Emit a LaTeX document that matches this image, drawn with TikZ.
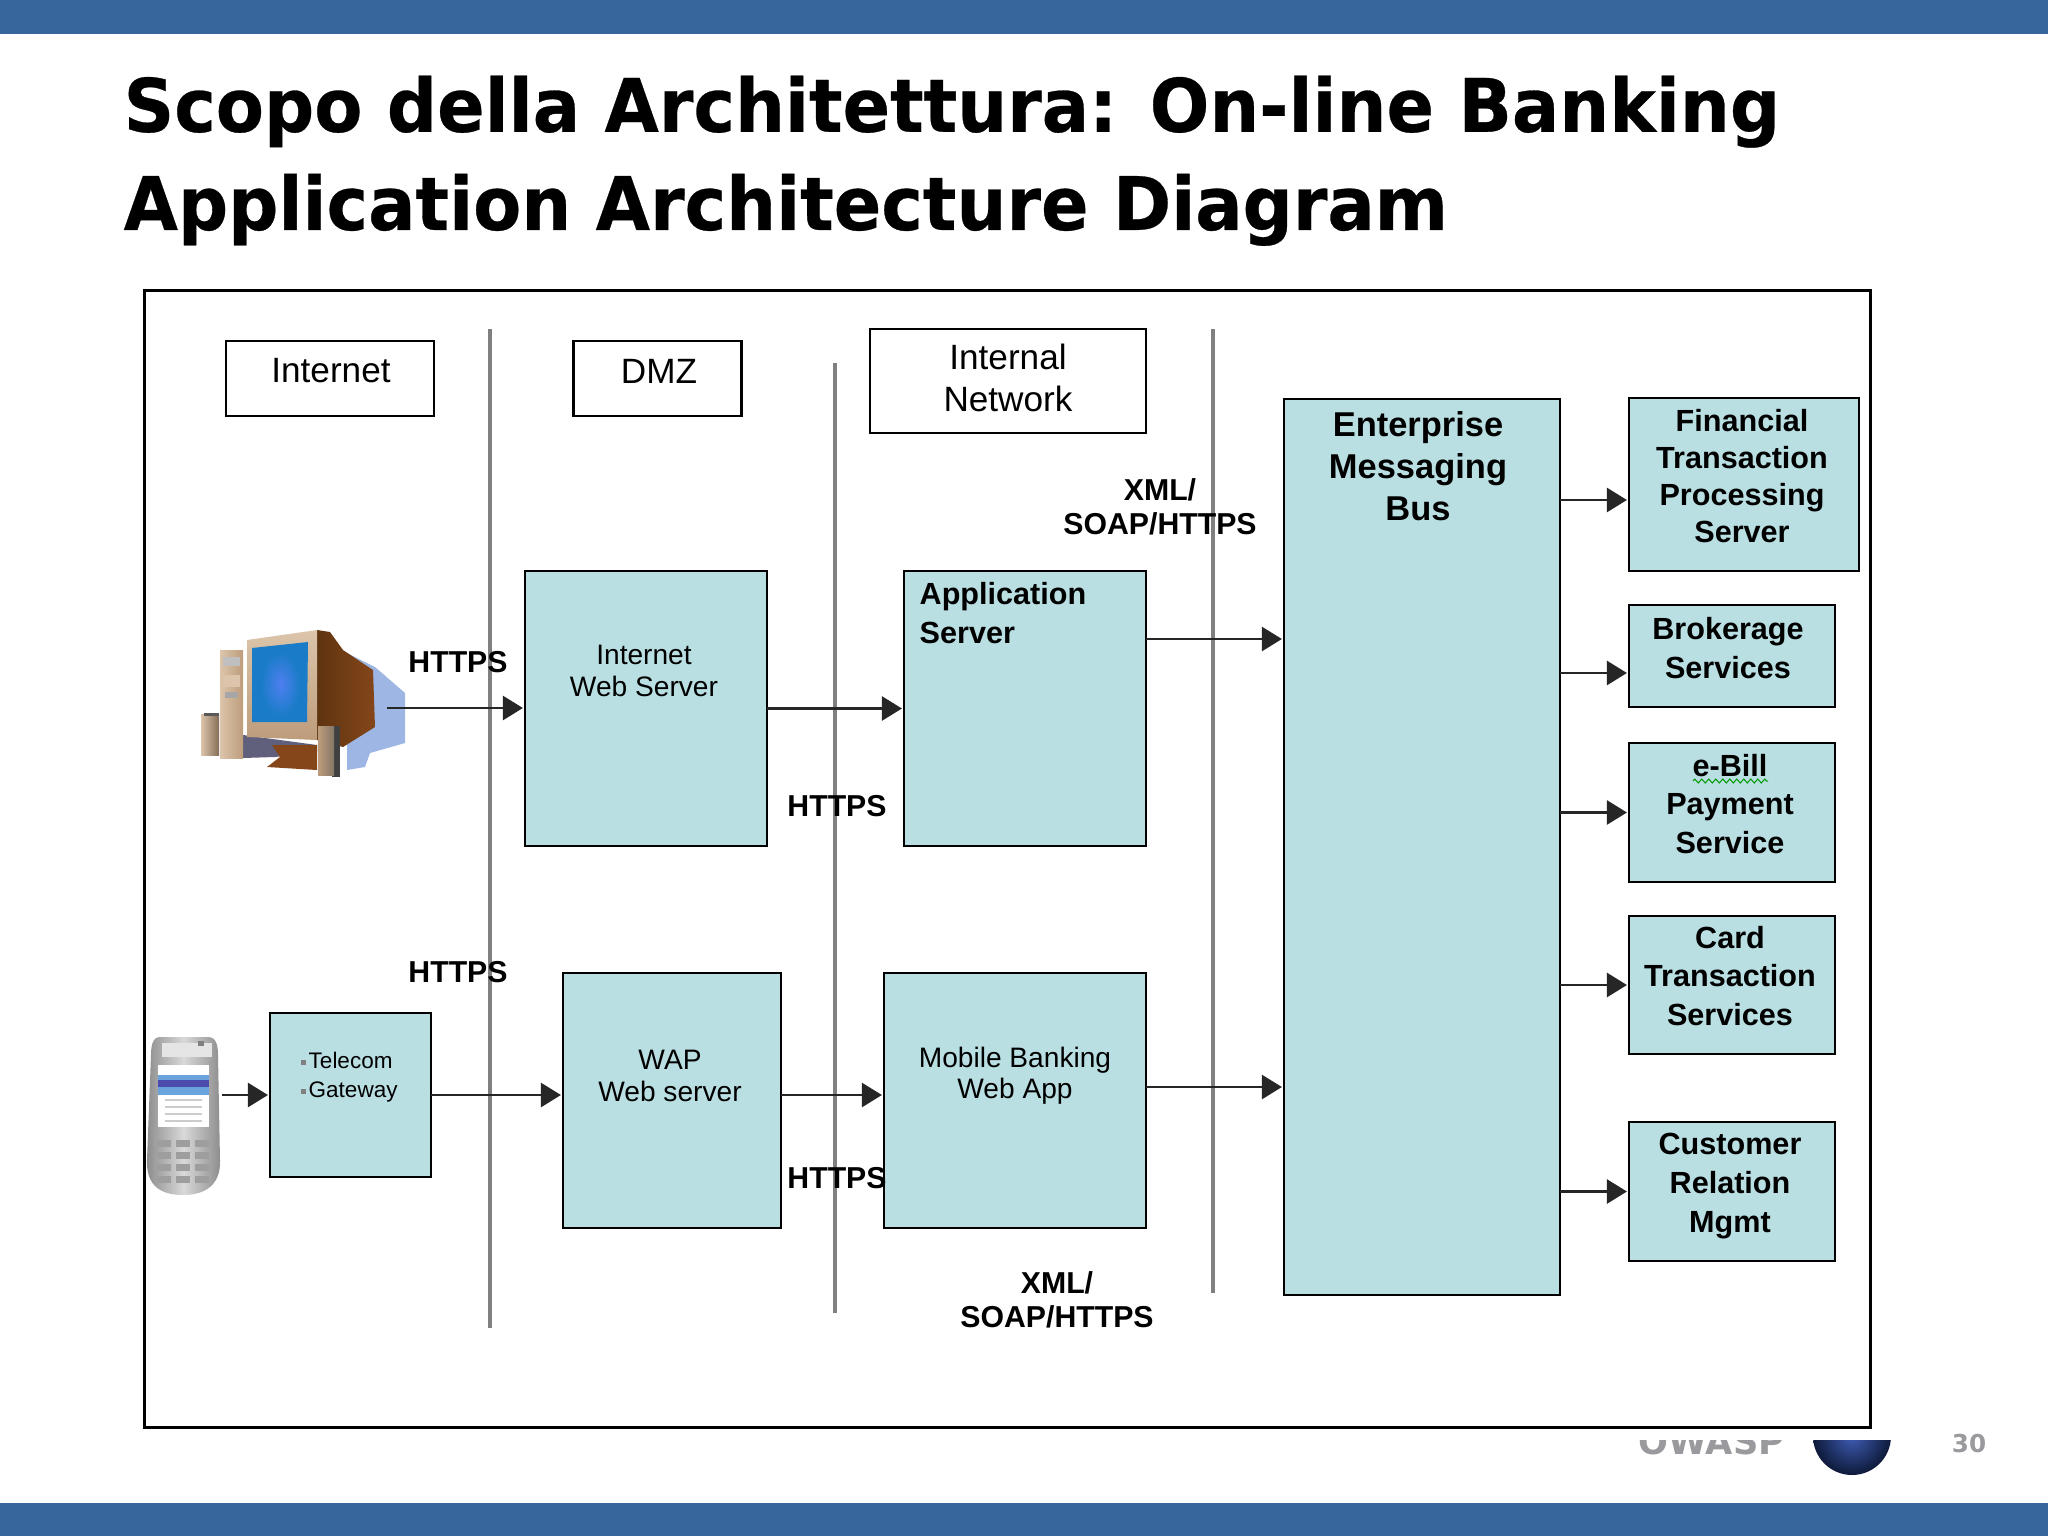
\documentclass[tikz,border=0pt]{standalone}
\usepackage{fontspec}
\setmainfont{Liberation Sans}
\newfontfamily\titlefont[FakeStretch=0.95,BoldFeatures={FakeBold=0.4}]{DejaVu Sans}
\newfontfamily\footfont{DejaVu Sans}
\usetikzlibrary{shapes,arrows,positioning,calc,decorations.pathmorphing,arrows.meta}
\definecolor{barblue}{HTML}{36669C}
\definecolor{tealfill}{HTML}{B9DFE2}
\definecolor{footgray}{HTML}{9A9A9E}
\definecolor{pctan}{HTML}{BD9C7B}
\definecolor{pclight}{HTML}{DCC5AB}
\definecolor{pcbrown}{HTML}{5E3410}
\definecolor{pcrust}{HTML}{85461A}
\definecolor{pcshadow}{HTML}{9DB6E4}
\definecolor{pcscreen}{HTML}{1A7CC8}
\definecolor{pcglow}{HTML}{4E7FEF}
\definecolor{globeblue}{HTML}{3F5DB5}
\definecolor{globedark}{HTML}{0E1A3A}
\tikzset{
  zonebox/.style={draw=black, rectangle, line width=.025cm, outer sep=0pt},
  srvbox/.style={zonebox, fill=tealfill},
  divider/.style={draw=black!50, line width=.035cm},
  link/.style={draw=black!85, line width=.025cm, shorten >=.02cm, -{Triangle[length=.2cm,width=.24cm]}},
  plainlbl/.style={align=center, font=\fontsize{8}{8.9}\selectfont, inner sep=0pt},
  boldlbl/.style={align=center, font=\bfseries\fontsize{8.7}{11}\selectfont, inner sep=0pt},
  zonelbl/.style={align=center, font=\fontsize{10}{12}\selectfont, inner sep=0pt},
  protolbl/.style={align=center, font=\bfseries\fontsize{8.6}{9.7}\selectfont, inner sep=0pt}
}
\newcommand{\sqbul}{\textcolor{black!50}{\rule[.03cm]{.05cm}{.05cm}}\hspace{.03cm}}
\begin{document}
\begin{tikzpicture}[x=.01cm,y=-.01cm]
    \useasboundingbox (0,0) rectangle (2048,1536);
    % Slide
    \fill[barblue] (0,0) rectangle (2048,34);
    \fill[barblue] (0,1503) rectangle (2048,1536);
    \node [anchor=north west, align=left, inner sep=0pt, font=\titlefont\bfseries\fontsize{21}{27.9}\selectfont] (title) at (123,75) {Scopo della Architettura: On-line Banking\\Application Architecture Diagram};
    \begin{scope}
      \clip (1600,1440) rectangle (1900,1500);
      \node [anchor=base west, inner sep=0pt, text=footgray, font=\footfont\bfseries\fontsize{10}{12}\selectfont] (owasp) at (1638,1454) {OWASP};
      \shade[inner color=globeblue, outer color=globedark] (1852,1436) circle [radius=39];
    \end{scope}
    \node [anchor=base, inner sep=0pt, text=footgray, font=\footfont\bfseries\fontsize{7}{8}\selectfont] (pagenum) at (1969,1452) {30};
    \draw[black, fill=white, line width=.03cm] (144,290) rectangle (1870,1427);

    % Dividers
    \draw[divider] (490,329) -- (490,1328);
    \draw[divider] (835,363) -- (835,1313);
    \draw[divider] (1213,329) -- (1213,1293);

    % Zones
    \node [zonebox, minimum width=2.08cm, minimum height=.75cm] (inet) at (330,378.5) {};
    \node [zonelbl] (inettxt) at (331,371) {Internet};
    \node [zonebox, minimum width=1.68cm, minimum height=.75cm] (dmz) at (657.5,378.5) {};
    \node [zonelbl] (dmztxt) at (659,371) {DMZ};
    \node [zonebox, minimum width=2.76cm, minimum height=1.04cm] (intnet) at (1008,381) {};
    \node [zonelbl] (intnettxt) at (1008,378) {Internal\\Network};

    % PC
    \fill[pcshadow] (347,653) -- (375,667) -- (405,693) -- (405,743) -- (370,753) -- (365,767) -- (347,770) -- cycle;
    \shade[left color=pcbrown, right color=pcrust] (317,630) -- (330,632) -- (343,650) -- (373,670) -- (375,727) -- (343,747) -- (317,740) -- cycle;
    \fill[black!55!blue!25!gray] (243,735) -- (317,745) -- (317,752) -- (275,757) -- (243,758) -- cycle;
    \fill[pcrust] (272,745) -- (317,745) -- (317,770) -- (267,767) -- (280,757) -- cycle;
    \shade[left color=pclight, right color=pctan] (220,650) rectangle (243,758);
    \fill[black!25] (223,657) rectangle (240,666);
    \fill[pclight] (223,675) rectangle (240,687);
    \fill[black!35] (225,692) rectangle (238,698);
    \shade[left color=pclight, right color=pctan!70!black] (201,714) rectangle (219,755);
    \fill[black!65] (204,713) rectangle (219,716);
    \shade[top color=pclight, bottom color=pctan] (247,640) -- (317,630) -- (317,740) -- (247,737) -- cycle;
    \fill[pcscreen] (252,648) -- (308,642) -- (307,722) -- (252,722) -- cycle;
    \shade[inner color=pcglow, outer color=pcscreen] (261,652) rectangle (300,716);
    \fill[black!75] (332,726) rectangle (340,777);
    \shade[left color=pctan, right color=pclight!60!black] (318,726) rectangle (334,775);
    \coordinate (pcout) at (387,708);

    % Phone
    \shade[left color=black!45, right color=black!45, middle color=black!15] (160,1037) -- (208,1037) .. controls (216,1037) and (218,1045) .. (218,1055) -- (220,1160) .. controls (221,1185) and (205,1195) .. (183,1195) .. controls (160,1195) and (146,1185) .. (147,1160) -- (151,1055) .. controls (151,1045) and (153,1037) .. (160,1037) -- cycle;
    \fill[black!10] (162,1043) rectangle (212,1057);
    \fill[black!50] (198,1041) rectangle (204,1046);
    \fill[white] (158,1065) rectangle (209,1127);
    \fill[cyan!60!blue!60] (158,1075) rectangle (209,1080);
    \fill[blue!55!black!70] (158,1080) rectangle (209,1087);
    \fill[cyan!60!blue!60] (158,1087) rectangle (209,1095);
    \foreach \yy in {1099,1106,1113,1120} {
      \fill[black!20] (165,\yy) rectangle (202,\yy+2);
    }
    \foreach \yy in {1140,1152,1164,1176} {
      \foreach \xx in {157,176,195} {
        \fill[black!38] (\xx,\yy) rectangle (\xx+14,\yy+7);
      }
    }
    \coordinate (phoneout) at (222,1095);

    % Servers
    \node [srvbox, minimum width=2.42cm, minimum height=2.75cm] (iws) at (646,708.5) {};
    \node [plainlbl] (iwstxt) at (644,671) {Internet\\Web Server};
    \node [srvbox, minimum width=2.42cm, minimum height=2.75cm] (appsrv) at (1025,708.5) {};
    \node [anchor=west, align=left, inner sep=0pt, font=\bfseries\fontsize{8.7}{11.1}\selectfont] (appsrvtxt) at (919,613) {Application\\Server};
    \node [srvbox, minimum width=1.61cm, minimum height=1.64cm] (gateway) at (350.5,1095) {};
    \node [anchor=west, align=left, inner sep=0pt, font=\fontsize{6.4}{8.2}\selectfont] (gatewaytxt) at (300,1077) {\sqbul Telecom\\\sqbul Gateway};
    \node [srvbox, minimum width=2.18cm, minimum height=2.55cm] (wap) at (672,1100.5) {};
    \node [plainlbl] (waptxt) at (670,1076) {WAP\\Web server};
    \node [srvbox, minimum width=2.62cm, minimum height=2.55cm] (mobile) at (1015,1100.5) {};
    \node [plainlbl] (mobiletxt) at (1015,1076) {Mobile Banking\\Web App};

    % Bus
    \node [srvbox, minimum width=2.76cm, minimum height=8.95cm] (bus) at (1422,847) {};
    \node [boldlbl, font=\bfseries\fontsize{9.8}{12}\selectfont] (bustxt) at (1418,466) {Enterprise\\Messaging\\Bus};

    % Back-end services
    \node [srvbox, minimum width=2.30cm, minimum height=1.73cm] (ftps) at (1744,484.5) {};
    \node [boldlbl, font=\bfseries\fontsize{8.7}{10.6}\selectfont] (ftpstxt) at (1742,476) {Financial\\Transaction\\Processing\\Server};
    \node [srvbox, minimum width=2.06cm, minimum height=1.02cm] (brok) at (1732,656) {};
    \node [boldlbl, font=\bfseries\fontsize{8.7}{11.1}\selectfont] (broktxt) at (1728,648) {Brokerage\\Services};
    \node [srvbox, minimum width=2.06cm, minimum height=1.39cm] (ebill) at (1732,812.5) {};
    \node [boldlbl] (ebilltxt) at (1730,804) {e-Bill\\Payment\\Service};
    \draw[green!60!black, line width=.01cm, decorate, decoration={zigzag, segment length=.07cm, amplitude=.02cm}] (1693,781) -- (1768,781);
    \node [srvbox, minimum width=2.06cm, minimum height=1.38cm] (card) at (1732,985) {};
    \node [boldlbl] (cardtxt) at (1730,976) {Card\\Transaction\\Services};
    \node [srvbox, minimum width=2.06cm, minimum height=1.39cm] (crm) at (1732,1191.5) {};
    \node [boldlbl] (crmtxt) at (1730,1186) {Customer\\Relation\\Mgmt};

    % Protocols
    \node [protolbl] (https1) at (458,662) {HTTPS};
    \node [protolbl] (https2) at (458,972) {HTTPS};
    \node [protolbl] (https3) at (837,806) {HTTPS};
    \node [protolbl] (https4) at (837,1178) {HTTPS};
    \node [protolbl] (xml1) at (1160,507) {XML/\\SOAP/HTTPS};
    \node [protolbl] (xml2) at (1057,1300) {XML/\\SOAP/HTTPS};

    % Connectors
    \draw[link] (pcout) -- (iws.west |- pcout);
    \draw[link] (iws.east) -- (appsrv.west);
    \draw[link] (phoneout) -- (gateway.west |- phoneout);
    \draw[link] (gateway.east) -- (wap.west |- gateway.east);
    \draw[link] (wap.east |- gateway.east) -- (mobile.west |- gateway.east);
    \draw[link] ($(appsrv.east)+(0,-69.5)$) -- ($(bus.west |- appsrv.east)+(0,-69.5)$);
    \draw[link] ($(mobile.east)+(0,-13.5)$) -- ($(bus.west |- mobile.east)+(0,-13.5)$);
    \draw[link] (bus.east |- 0,500) -- (ftps.west |- 0,500);
    \draw[link] (bus.east |- 0,673) -- (brok.west |- 0,673);
    \draw[link] (bus.east |- ebill.west) -- (ebill.west);
    \draw[link] (bus.east |- card.west) -- (card.west);
    \draw[link] (bus.east |- crm.west) -- (crm.west);
\end{tikzpicture}
\end{document}
